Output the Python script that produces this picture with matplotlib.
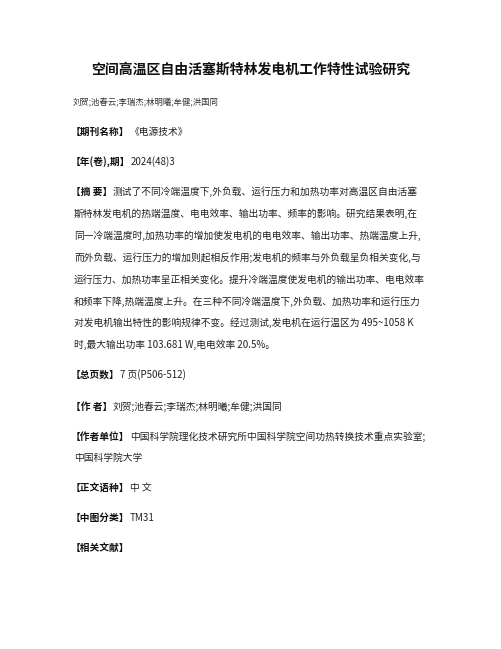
import matplotlib
matplotlib.use("Agg")
import matplotlib.pyplot as plt

plt.rcParams["font.family"] = ["Noto Sans CJK SC", "DejaVu Sans"]

W, H = 502, 649

title = "空间高温区自由活塞斯特林发电机工作特性试验研究"
authors = "刘贺;池春云;李瑞杰;林明曦;牟健;洪国同"

# (label, text, y in px); label None = continuation line
lines = [
    ("【期刊名称】", "《电源技术》", 132),
    ("【年(卷),期】", "2024(48)3", 162),
    ("【摘 要】", "测试了不同冷端温度下,外负载、运行压力和加热功率对高温区自由活塞", 192),
    (None, "斯特林发电机的热端温度、电电效率、输出功率、频率的影响。研究结果表明,在", 214),
    (None, "同一冷端温度时,加热功率的增加使发电机的电电效率、输出功率、热端温度上升,", 236),
    (None, "而外负载、运行压力的增加则起相反作用;发电机的频率与外负载呈负相关变化,与", 258),
    (None, "运行压力、加热功率呈正相关变化。提升冷端温度使发电机的输出功率、电电效率", 280),
    (None, "和频率下降,热端温度上升。在三种不同冷端温度下,外负载、加热功率和运行压力", 302),
    (None, "对发电机输出特性的影响规律不变。经过测试,发电机在运行温区为 495~1058 K", 323),
    (None, "时,最大输出功率 103.681 W,电电效率 20.5%。", 345),
    ("【总页数】", "7 页(P506-512)", 375),
    ("【作 者】", "刘贺;池春云;李瑞杰;林明曦;牟健;洪国同", 407),
    ("【作者单位】", "中国科学院理化技术研究所中国科学院空间功热转换技术重点实验室;", 437),
    (None, "中国科学院大学", 458),
    ("【正文语种】", "中 文", 488),
    ("【中图分类】", "TM31", 518),
    ("【相关文献】", "", 548),
]

fig = plt.figure(figsize=(W / 100, H / 100), dpi=100)
fig.patch.set_facecolor("white")
renderer = fig.canvas.get_renderer()

def fy(px):
    return 1 - px / H

fig.text(0.5, fy(70), title, ha="center", va="center",
         fontsize=10, fontweight="bold", color="#111111")
fig.text(73 / W, fy(103), authors, ha="left", va="center",
         fontsize=6, color="#333333")

body_size = 7.0
for label, text, y in lines:
    x = 74
    if label:
        t = fig.text(71 / W, fy(y), label, ha="left", va="center",
                     fontsize=body_size, fontweight="bold", color="#111111")
        x = t.get_window_extent(renderer).x1 + 0.5
    if text:
        fig.text(x / W, fy(y), text, ha="left", va="center",
                 fontsize=body_size, color="#222222")

fig.savefig("out.png", dpi=100, facecolor="white")
